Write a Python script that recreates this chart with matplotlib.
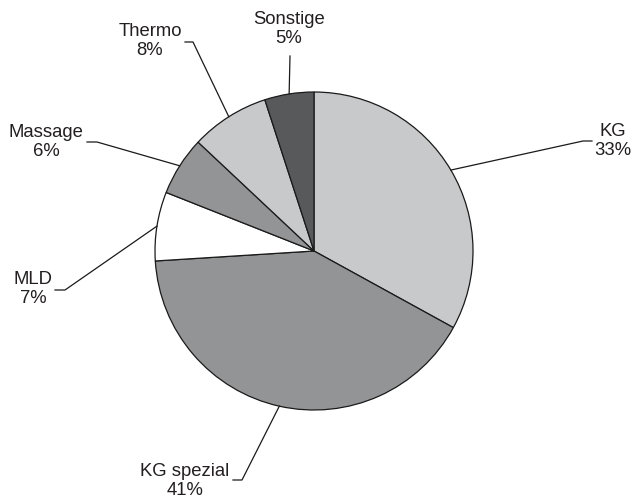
import numpy as np
import matplotlib.pyplot as plt

plt.rcParams['font.family'] = ['Liberation Sans', 'DejaVu Sans']

# Anteile je Kategorie (im Uhrzeigersinn ab 12 Uhr)
kategorien = ['KG', 'KG spezial', 'MLD', 'Massage', 'Thermo', 'Sonstige']
anteile = [33, 41, 7, 6, 8, 5]
farben = ['#c8c9cb', '#939496', '#ffffff', '#939496', '#c8c9cb', '#58595b']

# Beschriftungslage in Pixeln (x, y von oben): Textmitte, Knick der Linie, Ende der Linie
text_pos = [(613, 141), (185, 481), (33, 289), (46, 142), (150, 41), (289, 29)]
knick_pos = [(583, 141), (242, 480), (65, 290), (97, 142), (193, 42), (290, 56)]
ende_pos = [(592, 141), (233, 480), (55, 290), (87, 142), (185, 42), (290, 56)]

H = 500
mitte = (314, H - 251)
radius = 159

fig = plt.figure(figsize=(6.35, 5.0), dpi=100)
ax = fig.add_axes([0, 0, 1, 1])
ax.set_xlim(0, 635)
ax.set_ylim(0, H)
ax.set_aspect('equal')
ax.axis('off')

wedges, _ = ax.pie(anteile, colors=farben, startangle=90, counterclock=False,
                   center=mitte, radius=radius, frame=True,
                   wedgeprops=dict(edgecolor='#1a1a1a', linewidth=0.9))
ax.set_xlim(0, 635)
ax.set_ylim(0, H)
ax.axis('off')

for w, name, wert, tp, kp, ep in zip(wedges, kategorien, anteile, text_pos, knick_pos, ende_pos):
    winkel = np.deg2rad((w.theta1 + w.theta2) / 2)
    x0 = mitte[0] + radius * np.cos(winkel)
    y0 = mitte[1] + radius * np.sin(winkel)
    ax.plot([x0, kp[0], ep[0]], [y0, H - kp[1], H - ep[1]],
            color='#1a1a1a', linewidth=0.9)
    ax.text(tp[0], H - tp[1], f'{name}\n{wert}%', ha='center', va='center',
            fontsize=13.3, color='#231f20', linespacing=1.2)

fig.savefig('out.png', dpi=100)
